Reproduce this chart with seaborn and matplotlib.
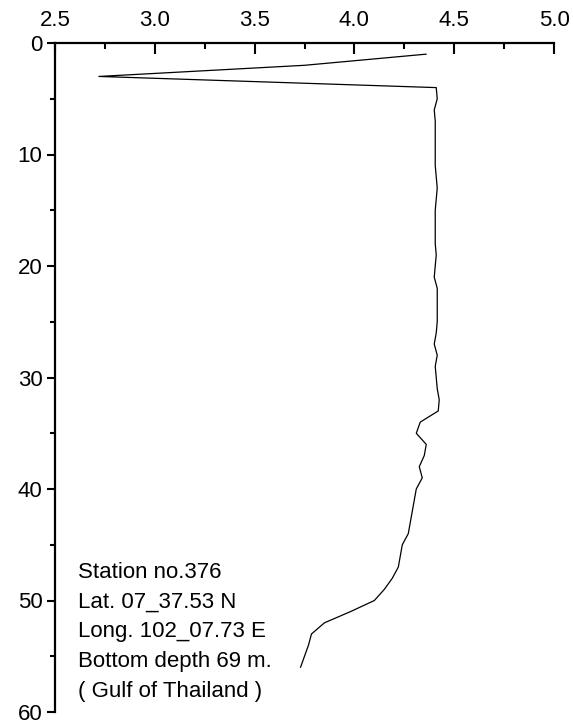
import matplotlib
matplotlib.use("Agg")
import matplotlib.pyplot as plt
import seaborn as sns
import pandas as pd
from matplotlib.ticker import MultipleLocator

depth = list(range(1, 57))
value = [4.36, 3.75, 2.72, 4.41, 4.415, 4.40, 4.405, 4.405, 4.405, 4.405,
         4.405, 4.41, 4.415, 4.41, 4.405, 4.405, 4.405, 4.405, 4.41, 4.405,
         4.40, 4.415, 4.415, 4.415, 4.415, 4.41, 4.40, 4.415, 4.405, 4.41,
         4.415, 4.425, 4.42, 4.33, 4.31, 4.36, 4.35, 4.325, 4.34, 4.31,
         4.30, 4.29, 4.28, 4.27, 4.24, 4.23, 4.22, 4.19, 4.15, 4.10,
         3.98, 3.85, 3.785, 3.77, 3.75, 3.73]
info_lines = ["Station no.376", "Lat. 07_37.53 N", "Long. 102_07.73 E",
              "Bottom depth 69 m.", "( Gulf of Thailand )"]

sns.set_style("ticks", {"axes.edgecolor": "black", "text.color": "black",
                        "xtick.color": "black", "ytick.color": "black"})
plt.rcParams['font.family'] = ['Liberation Sans', 'DejaVu Sans']
plt.rcParams['text.color'] = 'black'
plt.rcParams['xtick.labelcolor'] = 'black'
plt.rcParams['ytick.labelcolor'] = 'black'
FS = 16

W, H = 573, 721
fig = plt.figure(figsize=(W / 100, H / 100), dpi=100)
ax = fig.add_axes([55 / W, 9 / H, (554 - 55) / W, (712 - 43) / H])

df = pd.DataFrame({"depth": depth, "value": value})
sns.lineplot(data=df, x="value", y="depth", sort=False, estimator=None,
             color="black", linewidth=0.9, ax=ax)

ax.set_xlim(2.5, 5.0)
ax.set_ylim(60, 0)
ax.set_xlabel("")
ax.set_ylabel("")
ax.xaxis.set_major_locator(MultipleLocator(0.5))
ax.xaxis.set_minor_locator(MultipleLocator(0.25))
ax.yaxis.set_major_locator(MultipleLocator(10))
ax.yaxis.set_minor_locator(MultipleLocator(5))
ax.xaxis.set_major_formatter(plt.FuncFormatter(lambda v, p: f"{v:.1f}"))
ax.yaxis.set_major_formatter(plt.FuncFormatter(lambda v, p: f"{v:.0f}"))

ax.xaxis.tick_top()
ax.spines['right'].set_visible(False)
ax.spines['bottom'].set_visible(False)
for s in ['left', 'top']:
    ax.spines[s].set_linewidth(1.6)
    ax.spines[s].set_color('black')
ax.tick_params(axis='x', which='major', direction='in', length=8, width=1.5,
               labelsize=FS, pad=9, top=True, bottom=False,
               color='black', labelcolor='black')
ax.tick_params(axis='x', which='minor', direction='in', length=4, width=1.5,
               top=True, bottom=False, color='black')
ax.tick_params(axis='y', which='major', direction='out', length=6, width=1.5,
               labelsize=FS, pad=3, color='black', labelcolor='black')
ax.tick_params(axis='y', which='minor', direction='out', length=3.5, width=1.5,
               color='black')

y0 = 572
for i, t in enumerate(info_lines):
    fig.text(78 / W, 1 - (y0 + 30 * i) / H, t, fontsize=FS, ha='left',
             va='center', color='black')

fig.savefig("out.png", dpi=100)
